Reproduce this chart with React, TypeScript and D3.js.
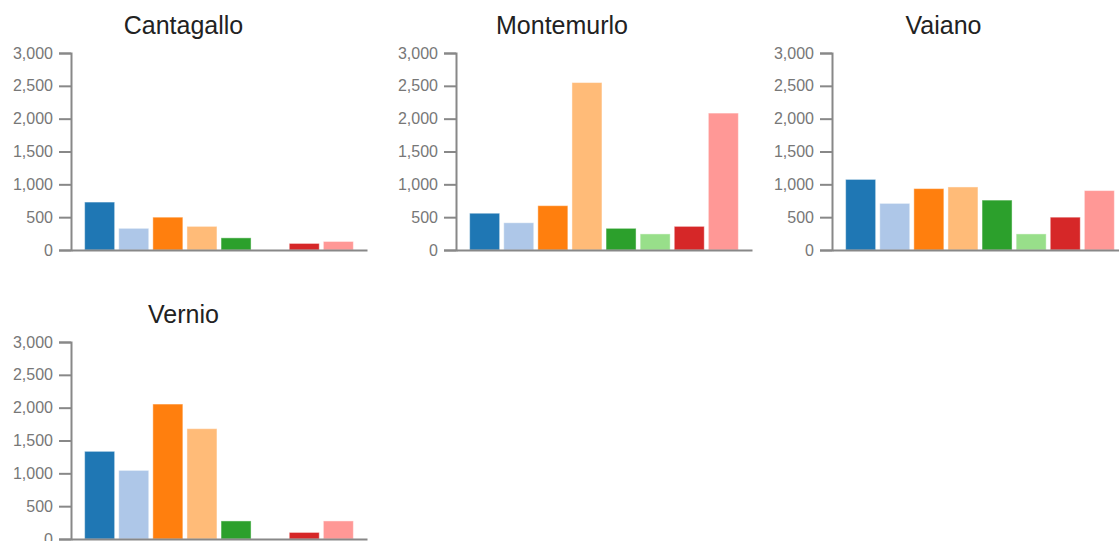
import React, { useEffect, useRef } from "react";
import * as d3 from "d3";

// data
const towns = ["Cantagallo", "Montemurlo", "Vaiano", "Vernio"];
const categories = ["c1", "c2", "c3", "c4", "c5", "c6", "c7", "c8"];
const cantagallo = [730, 330, 500, 360, 185, 0, 100, 130];
const montemurlo = [560, 415, 675, 2550, 330, 245, 360, 2085];
const vaiano = [1075, 710, 935, 960, 760, 245, 500, 905];
const vernio = [1335, 1045, 2055, 1680, 275, 0, 100, 275];
const yTicks = [0, 500, 1000, 1500, 2000, 2500, 3000];
const colors = ["#1f77b4", "#aec7e8", "#ff7f0e", "#ffbb78", "#2ca02c", "#98df8a", "#d62728", "#ff9896"];

const seriesByTown = [cantagallo, montemurlo, vaiano, vernio];

const W = 1119;
const H = 541;
const FONT = "'Liberation Sans', Arial, sans-serif";

const App = () => {
  const svgRef = useRef<SVGSVGElement>(null);

  useEffect(() => {
    const root = d3.select(svgRef.current);
    root.selectAll("*").remove();

    const axisXs = [71, 456, 832];
    const titleOffsets = [112.5, 106, 111.5];
    const rowOffset = 289;
    const plotW = 296;

    towns.forEach((town, i) => {
      const col = i % 3;
      const row = Math.floor(i / 3);
      const x0 = axisXs[col];
      const dy = row * rowOffset;

      const g = root.append("g").attr("transform", `translate(0,${dy})`);

      const x = d3
        .scaleBand()
        .domain(categories)
        .range([x0, x0 + plotW])
        .paddingInner(0.12)
        .paddingOuter(0.4);

      const y = d3.scaleLinear().domain([0, 3000]).range([250, 53]);

      g.append("text")
        .attr("x", x0 + titleOffsets[col])
        .attr("y", 34)
        .attr("text-anchor", "middle")
        .attr("font-family", FONT)
        .attr("font-size", 25)
        .attr("fill", "#222")
        .text(town);

      const values = seriesByTown[i];
      g.selectAll("rect.bar")
        .data(values)
        .join("rect")
        .attr("class", "bar")
        .attr("x", (_, j) => x(categories[j]))
        .attr("width", x.bandwidth())
        .attr("y", (d) => y(d))
        .attr("height", (d) => y(0) - y(d))
        .attr("fill", (_, j) => colors[j])
        .attr("stroke", "#fff")
        .attr("stroke-opacity", 0.45)
        .attr("stroke-width", 1);

      const yAxis = d3
        .axisLeft(y)
        .tickValues(yTicks)
        .tickSize(12)
        .tickPadding(6)
        .tickFormat(d3.format(","));

      const ya = g.append("g").attr("transform", `translate(${x0},0)`).call(yAxis);
      ya.selectAll("path, line").attr("stroke", "#888").attr("stroke-width", 2);
      ya.selectAll("text")
        .attr("font-family", FONT)
        .attr("font-size", 16)
        .attr("fill", "#777");

      const xAxis = d3.axisBottom(x).tickSize(0).tickFormat(() => "");
      const xa = g.append("g").attr("transform", `translate(0,${y(0)})`).call(xAxis);
      xa.selectAll("path").attr("stroke", "#888").attr("stroke-width", 2);
      xa.selectAll(".tick").remove();
    });
  }, []);

  return (
    <svg
      ref={svgRef}
      width={W}
      height={H}
      style={{ position: "absolute", left: 0, top: 0, display: "block", background: "#fff" }}
    ></svg>
  );
};

export default App;
